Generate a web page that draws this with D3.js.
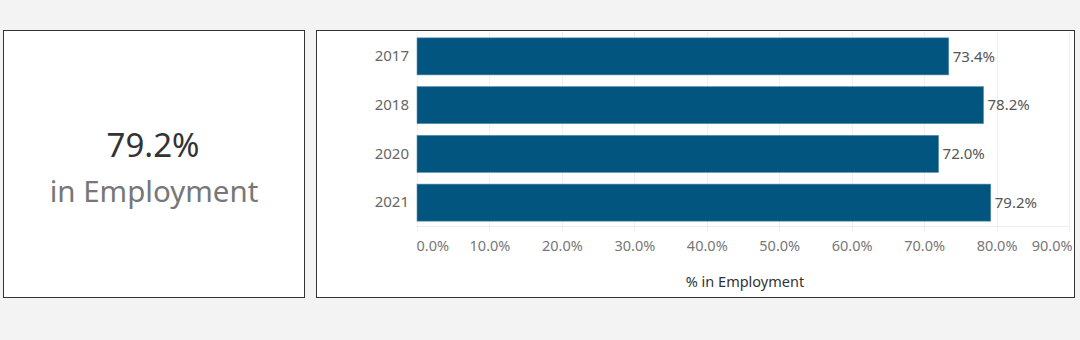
<!DOCTYPE html>
<html><head><meta charset="utf-8">
<script src="https://cdn.jsdelivr.net/npm/d3@7"></script>
<style>
html,body{margin:0;padding:0;background:#f3f3f3;}
svg{display:block;}
text{font-family:"Noto Sans","Open Sans",sans-serif;}
</style></head>
<body>
<svg id="chart" width="1080" height="340"></svg>
<script>
const years = ["2017", "2018", "2020", "2021"];
const employment = [73.4, 78.2, 72.0, 79.2];
const tickValues = [0, 10, 20, 30, 40, 50, 60, 70, 80, 90];
const kpiValue = "79.2%";
const kpiLabel = "in Employment";
const axisTitle = "% in Employment";

const FONT = '"Noto Sans","Open Sans",sans-serif';
const svg = d3.select("#chart");
svg.append("rect").attr("width",1080).attr("height",340).attr("fill","#f3f3f3");

// KPI panel
svg.append("rect").attr("x",3.5).attr("y",30.5).attr("width",301).attr("height",267)
  .attr("fill","#fff").attr("stroke","#333").attr("stroke-width",1);
svg.append("text").attr("x",153).attr("y",157).attr("text-anchor","middle")
  .attr("font-size",33).attr("fill","#333").text(kpiValue);
svg.append("text").attr("x",154).attr("y",202).attr("text-anchor","middle")
  .attr("font-size",29.5).attr("fill","#777").text(kpiLabel);

// Chart panel
svg.append("rect").attr("x",316.5).attr("y",30.5).attr("width",758).attr("height",267)
  .attr("fill","#fff").attr("stroke","#333").attr("stroke-width",1);

const x = d3.scaleLinear().domain([0,90]).range([417,1069]);
const y = d3.scaleBand().domain(years).range([32,227]).paddingInner(0.24).paddingOuter(0.12);

const g = svg.append("g");
// gridlines
g.selectAll("line.grid").data(tickValues).join("line")
  .attr("x1",d=>Math.round(x(d))+0.5).attr("x2",d=>Math.round(x(d))+0.5)
  .attr("y1",32).attr("y2",232).attr("stroke","#f0f0f0").attr("stroke-width",1);
// axis baseline
g.append("line").attr("x1",417).attr("x2",1069).attr("y1",226.5).attr("y2",226.5)
  .attr("stroke","#eeeeee");

// bars
const data = years.map((yr,i)=>({yr, v: employment[i]}));
g.selectAll("rect.bar").data(data).join("rect")
  .attr("x",x(0)).attr("y",d=>y(d.yr)).attr("width",d=>x(d.v)-x(0)).attr("height",y.bandwidth())
  .attr("fill","#02557e").attr("stroke","#5a8fb0").attr("stroke-width",0.6);

// value labels
g.selectAll("text.val").data(data).join("text")
  .attr("x",d=>x(d.v)+4).attr("y",d=>y(d.yr)+y.bandwidth()/2).attr("dy","0.35em")
  .attr("font-size",15).attr("fill","#555").text(d=>d.v.toFixed(1)+"%");

// y axis labels
const yAxis = d3.axisLeft(y).tickSize(0).tickPadding(8);
const ya = svg.append("g").attr("transform","translate(417,0)").call(yAxis);
ya.select(".domain").remove();
ya.selectAll("text").attr("font-size",15).attr("fill","#666").attr("font-family",FONT);

// x axis
const xAxis = d3.axisBottom(x).tickValues(tickValues).tickSize(0).tickPadding(0)
  .tickFormat(d=>d.toFixed(1)+"%");
const xa = svg.append("g").attr("transform","translate(0,241)").call(xAxis);
xa.select(".domain").remove();
xa.selectAll("text").attr("font-size",14.5).attr("fill","#777").attr("dy","0.71em")
  .attr("font-family",FONT)
  .attr("text-anchor",d=>d===0?"start":(d===90?"end":"middle"))
  .attr("dx",d=>d===0?-1:(d===90?3:0));

svg.append("text").attr("x",(x(0)+x(90))/2+2).attr("y",287).attr("text-anchor","middle")
  .attr("font-size",14.5).attr("fill","#333").text(axisTitle);
</script>
</body></html>
